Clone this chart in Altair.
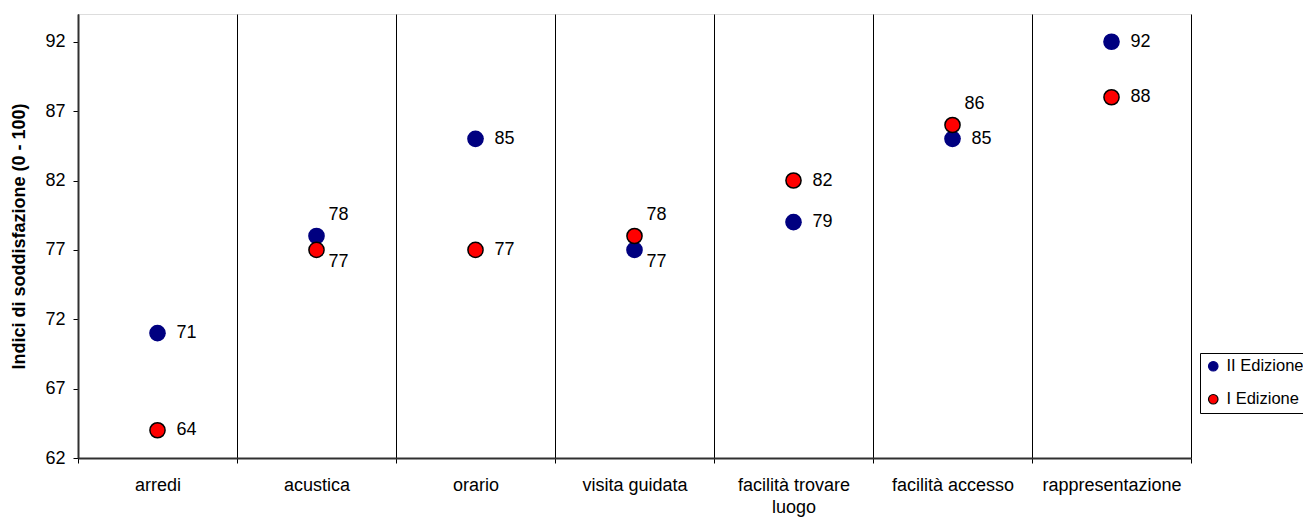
import altair as alt
import pandas as pd

categories = ["arredi", "acustica", "orario", "visita guidata",
              "facilità trovare luogo", "facilità accesso", "rappresentazione"]
series_names = ["II Edizione", "I Edizione"]
values_II = [71, 78, 85, 77, 79, 85, 92]
values_I = [64, 77, 77, 78, 82, 86, 88]
label_pos_II = ["mid", "up", "mid", "down", "mid", "mid", "mid"]
label_pos_I = ["mid", "down", "mid", "up", "mid", "up", "mid"]
y_ticks = [62, 67, 72, 77, 82, 87, 92]

rows = []
for name, vals, poss in [(series_names[0], values_II, label_pos_II),
                         (series_names[1], values_I, label_pos_I)]:
    for c, v, p in zip(categories, vals, poss):
        rows.append({"categoria": c, "valore": v, "serie": name, "pos": p})
df = pd.DataFrame(rows)

FONT = "Liberation Sans"

wrap_expr = ("length(datum.label) > 20 ? "
             "[slice(datum.label, 0, lastindexof(datum.label, ' ')), "
             "slice(datum.label, lastindexof(datum.label, ' ') + 1)] : datum.label")

x_enc = alt.X(
    "categoria:N", sort=categories,
    scale=alt.Scale(paddingInner=0, paddingOuter=0),
    axis=alt.Axis(title=None, labelAngle=0, grid=True, gridColor="#000000",
                  gridWidth=1, tickBand="extent", tickColor="#000000",
                  tickSize=5, domainColor="#303030", domainWidth=2,
                  labelFontSize=18, labelFont=FONT, labelColor="#000000",
                  labelPadding=13, labelExpr=wrap_expr, labelLineHeight=22,
                  labelLimit=300),
)
y_enc = alt.Y(
    "valore:Q",
    scale=alt.Scale(domain=[62, 94], nice=False, zero=False),
    axis=alt.Axis(title="Indici di soddisfazione (0 - 100)", values=y_ticks,
                  grid=False, tickColor="#000000", tickSize=5,
                  domainColor="#303030", domainWidth=2, labelFontSize=18,
                  labelFont=FONT, labelColor="#000000", labelPadding=8,
                  titleFont=FONT, titleFontSize=18, titleFontWeight="bold",
                  titleColor="#000000", titlePadding=16),
)

legend = alt.Legend(title=None, orient="none", legendX=1122, legendY=339,
                    strokeColor="#000000", fillColor="#FFFFFF", padding=5,
                    labelFontSize=16.5, labelFont=FONT, labelColor="#000000",
                    symbolSize=90, rowPadding=16, labelOffset=5,
                    symbolStrokeWidth=1.2)

points = alt.Chart(df).mark_point(filled=True, size=230, shape="circle",
                                  opacity=1, strokeWidth=1.5).encode(
    x=x_enc, y=y_enc,
    fill=alt.Fill("serie:N", sort=series_names,
                  scale=alt.Scale(domain=series_names, range=["#000080", "#FF0000"]),
                  legend=legend),
    stroke=alt.Stroke("serie:N", sort=series_names,
                      scale=alt.Scale(domain=series_names, range=["#000080", "#000000"]),
                      legend=legend),
)

def labels(pos, dx, dy):
    return alt.Chart(df).transform_filter(
        alt.datum.pos == pos
    ).mark_text(align="left", baseline="middle", dx=dx, dy=dy,
                fontSize=18, font=FONT, color="#000000").encode(
        x=x_enc, y=y_enc, text=alt.Text("valore:Q"))

chart = alt.layer(
    points,
    labels("mid", 19, 0),
    labels("up", 12, -21),
    labels("down", 12, 12),
).properties(
    width=1113, height=444,
    autosize=alt.AutoSizeParams(type="none"),
    padding={"left": 70, "top": 6, "right": 112, "bottom": 59},
).configure_view(
    fill="#C0C0C0", stroke="#808080", strokeWidth=2
).configure(background="#FFFFFF")

chart.save("out.html", embed_options={"renderer": "svg", "actions": False})
